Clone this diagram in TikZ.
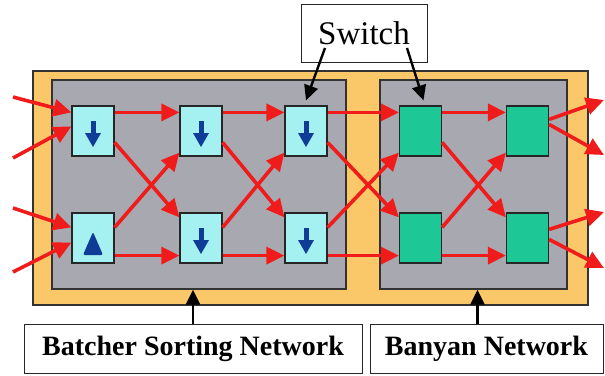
\documentclass[tikz,border=0pt]{standalone}
\usepackage{fontspec}
\setmainfont{Liberation Serif}
\usetikzlibrary{arrows.meta, positioning, calc}
\definecolor{frameorange}{RGB}{250,200,105}
\definecolor{netgray}{RGB}{168,168,176}
\definecolor{sortcyan}{RGB}{165,240,240}
\definecolor{banyangreen}{RGB}{30,200,150}
\definecolor{wirered}{RGB}{240,28,28}
\definecolor{dirblue}{RGB}{15,60,150}

\tikzset{
  sorter/.style={draw=black!85, line width=1.2pt, fill=sortcyan, minimum width=42pt, minimum height=50pt, inner sep=0pt},
  banyan/.style={sorter, fill=banyangreen},
  panel/.style={draw=black!80, line width=1.3pt, fill=netgray, inner sep=0pt},
  wire/.style={draw=wirered, line width=3.6pt, -{Triangle[length=18pt,width=17pt]}},
  labelbox/.style={draw=black!85, line width=1pt, fill=white, inner sep=0pt},
  pointer/.style={draw=black, line width=2.4pt, -{Triangle[length=15pt,width=14pt]}}
}

% blue direction marks inside the sorting switches
\newcommand{\sortdown}[1]{%
  \fill[dirblue] ($(#1.center)+(-2.5,-10)$) rectangle ($(#1.center)+(2.5,4)$);
  \fill[dirblue] ($(#1.center)+(-8,2)$) -- ($(#1.center)+(8,2)$) -- ($(#1.center)+(0,16)$) -- cycle;}
\newcommand{\sortup}[1]{%
  \fill[dirblue, rounded corners=1.5pt] ($(#1.center)+(-10,17)$) -- ($(#1.center)+(10,17)$) -- ($(#1.center)+(0,-6)$) -- cycle;}

\begin{document}
\begin{tikzpicture}[x=1pt, y=-1pt]
  \useasboundingbox (0,0) rectangle (605,375);

  % frame and the two networks
  \fill[frameorange, draw=black!80, line width=1.3pt] (33,71) rectangle (588,305);
  \node[panel, minimum width=294pt, minimum height=209pt] (sortpanel) at (199,184.5) {};
  \node[panel, minimum width=187pt, minimum height=209pt] (banyanpanel) at (473.5,184.5) {};

  % switches
  \node[sorter] (s11) at (93,131) {};
  \node[sorter] (s12) at (93,238) {};
  \node[sorter] (s21) at (201,131) {};
  \node[sorter] (s22) at (201,238) {};
  \node[sorter] (s31) at (306,131) {};
  \node[sorter] (s32) at (306,238) {};
  \node[banyan] (b41) at (420.5,131) {};
  \node[banyan] (b42) at (420.5,238) {};
  \node[banyan] (b51) at (527.5,131) {};
  \node[banyan] (b52) at (527.5,238) {};

  \sortdown{s11}
  \sortup{s12}
  \sortdown{s21}
  \sortdown{s22}
  \sortdown{s31}
  \sortdown{s32}

  % free ends of the inputs and outputs
  \coordinate (in1) at (13,97);
  \coordinate (in2) at (13,158);
  \coordinate (in3) at (13,208);
  \coordinate (in4) at (13,272);
  \coordinate (out1) at (604,100);
  \coordinate (out2) at (604,155);
  \coordinate (out3) at (604,212);
  \coordinate (out4) at (604,268);

  % inputs
  \draw[wire] (in1) -- ([yshift=-7pt]s11.north west);
  \draw[wire] (in2) -- ([yshift=-21pt]s11.north west);
  \draw[wire] (in3) -- ([yshift=-15pt]s12.north west);
  \draw[wire] (in4) -- ([yshift=-30pt]s12.north west);

  % stage 1 -> 2
  \draw[wire] ([yshift=-7pt]s11.north east) -- ([yshift=-7pt]s21.north west);
  \draw[wire] ([yshift=-37pt]s11.north east) -- ([yshift=-5pt]s22.north west);
  \draw[wire] ([yshift=-15pt]s12.north east) -- ([yshift=4pt]s21.south west);
  \draw[wire] ([yshift=8pt]s12.south east) -- ([yshift=8pt]s22.south west);

  % stage 2 -> 3
  \draw[wire] ([yshift=-7pt]s21.north east) -- ([yshift=-7pt]s31.north west);
  \draw[wire] ([yshift=-37pt]s21.north east) -- ([yshift=-5pt]s32.north west);
  \draw[wire] ([yshift=-15pt]s22.north east) -- ([yshift=4pt]s31.south west);
  \draw[wire] ([yshift=8pt]s22.south east) -- ([yshift=8pt]s32.south west);

  % stage 3 -> banyan
  \draw[wire] ([yshift=-7pt]s31.north east) -- ([yshift=-7pt]b41.north west);
  \draw[wire] ([yshift=-37pt]s31.north east) -- ([yshift=-5pt]b42.north west);
  \draw[wire] ([yshift=-15pt]s32.north east) -- ([yshift=4pt]b41.south west);
  \draw[wire] ([yshift=8pt]s32.south east) -- ([yshift=8pt]b42.south west);

  % banyan stage
  \draw[wire] ([yshift=-7pt]b41.north east) -- ([yshift=-7pt]b51.north west);
  \draw[wire] ([yshift=-37pt]b41.north east) -- ([yshift=-5pt]b52.north west);
  \draw[wire] ([yshift=-15pt]b42.north east) -- ([yshift=4pt]b51.south west);
  \draw[wire] ([yshift=8pt]b42.south east) -- ([yshift=8pt]b52.south west);

  % outputs
  \draw[wire] ([yshift=-14pt]b51.north east) -- (out1);
  \draw[wire] ([yshift=-19pt]b51.north east) -- (out2);
  \draw[wire] ([yshift=-17pt]b52.north east) -- (out3);
  \draw[wire] ([yshift=-27pt]b52.north east) -- (out4);

  % labels
  \node[labelbox, minimum width=126pt, minimum height=58pt, font=\fontsize{33}{36}\selectfont] (switch) at (364,33) {Switch};
  \node[labelbox, minimum width=338pt, minimum height=49pt, font=\fontsize{28}{30}\selectfont\bfseries] (batcher) at (193,348.5) {Batcher Sorting Network};
  \node[labelbox, minimum width=233pt, minimum height=49pt, font=\fontsize{28}{30}\selectfont\bfseries] (banyanlbl) at (486.5,348.5) {Banyan Network};

  \draw[pointer] ([shift={(-39,15)}]switch.center) -- ([yshift=5pt]s31.north);
  \draw[pointer] ([shift={(43,15)}]switch.center) -- ([xshift=3pt,yshift=5pt]b41.north);
  \draw[pointer] (batcher.north) -- (batcher.north |- sortpanel.south);
  \draw[pointer] ([xshift=-9pt]banyanlbl.north) -- ([xshift=-9pt]banyanlbl.north |- banyanpanel.south);
\end{tikzpicture}
\end{document}
